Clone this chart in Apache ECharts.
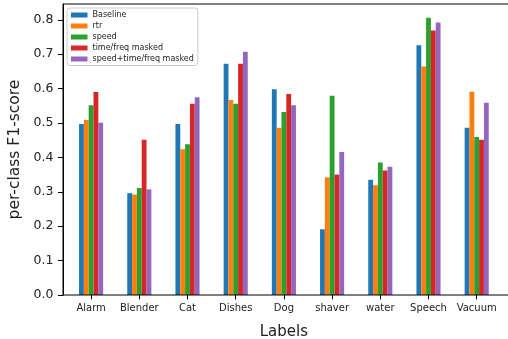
<!DOCTYPE html>
<html>
<head>
<meta charset="utf-8">
<script src="https://cdn.jsdelivr.net/npm/echarts@6/dist/echarts.min.js"></script>
<style>html,body{margin:0;padding:0;background:#fff;}#chart{width:508px;height:339px;}</style>
</head>
<body>
<div id="chart"></div>
<script>
var categories = ['Alarm','Blender','Cat','Dishes','Dog','shaver','water','Speech','Vacuum'];
var seriesNames = ['Baseline','rtr','speed','time/freq masked','speed+time/freq masked'];
var baseline = [0.497,0.296,0.497,0.672,0.598,0.191,0.335,0.726,0.486];
var rtr = [0.509,0.292,0.424,0.567,0.486,0.342,0.319,0.664,0.591];
var speed = [0.552,0.311,0.438,0.556,0.532,0.579,0.385,0.806,0.459];
var timeFreqMasked = [0.590,0.451,0.556,0.672,0.584,0.350,0.362,0.769,0.451];
var speedTimeFreqMasked = [0.501,0.307,0.575,0.707,0.552,0.416,0.373,0.792,0.559];
var yTicks = [0,0.1,0.2,0.3,0.4,0.5,0.6,0.7,0.8];
var colors = ['#1f77b4','#ff7f0e','#2ca02c','#d62728','#9467bd'];

var values = [baseline, rtr, speed, timeFreqMasked, speedTimeFreqMasked];
var FONT = 'DejaVu Sans';
var YMAX = 0.846;

var chart = echarts.init(document.getElementById('chart'), null, {renderer:'canvas'});
var series = values.map(function(v, i){
  return {
    name: seriesNames[i], type: 'bar', data: v,
    xAxisIndex: 0, yAxisIndex: 0,
    barWidth: 4.82, barGap: '0%',
    itemStyle: {color: colors[i]},
    emphasis: {disabled: true}
  };
});
chart.setOption({
  animation: false,
  textStyle: {fontFamily: FONT},
  color: colors,
  grid: [
    {left: 67, right: 7.2, top: 4, bottom: 44, show: false, containLabel: false, outerBoundsMode: 'none'},
    {left: 63, right: -2, top: 4, bottom: 44, show: true, borderColor: '#000', borderWidth: 1, backgroundColor: 'transparent', z: 10, containLabel: false, outerBoundsMode: 'none'}
  ],
  legend: {
    orient: 'vertical', left: 67, top: 8,
    padding: [3, 4, 2.5, 4],
    itemWidth: 16.5, itemHeight: 5, itemGap: 3,
    icon: 'rect',
    backgroundColor: 'rgba(255,255,255,0.8)',
    borderColor: '#ccc', borderWidth: 1, borderRadius: 3,
    textStyle: {fontFamily: FONT, fontSize: 8, color: '#222', lineHeight: 8},
    data: seriesNames
  },
  xAxis: [
    {
      type: 'category', gridIndex: 0, data: categories,
      axisLine: {show: false},
      axisTick: {show: true, alignWithLabel: true, length: 4.5, lineStyle: {color: '#000', width: 1}},
      axisLabel: {fontFamily: FONT, fontSize: 10, color: '#222', margin: 8, interval: 0, hideOverlap: false},
      name: 'Labels', nameLocation: 'middle', nameGap: 30,
      nameTextStyle: {fontFamily: FONT, fontSize: 15, color: '#222'},
      splitLine: {show: false}
    },
    {type: 'value', gridIndex: 1, min: 0, max: 1, show: false}
  ],
  yAxis: [
    {type: 'value', gridIndex: 0, min: 0, max: YMAX, show: false},
    {
      type: 'value', gridIndex: 1, min: 0, max: YMAX,
      axisLine: {show: true, lineStyle: {color: '#000'}},
      axisTick: {show: true, length: 5, customValues: yTicks, lineStyle: {color: '#000'}},
      axisLabel: {fontFamily: FONT, fontSize: 12.5, color: '#222', margin: 9.5, customValues: yTicks,
        formatter: function(v){ return v.toFixed(1); }},
      splitLine: {show: false},
      name: 'per-class F1-score', nameLocation: 'middle', nameGap: 33,
      nameTextStyle: {fontFamily: FONT, fontSize: 15.5, color: '#222'}
    }
  ],
  series: series
});
</script>
</body>
</html>
